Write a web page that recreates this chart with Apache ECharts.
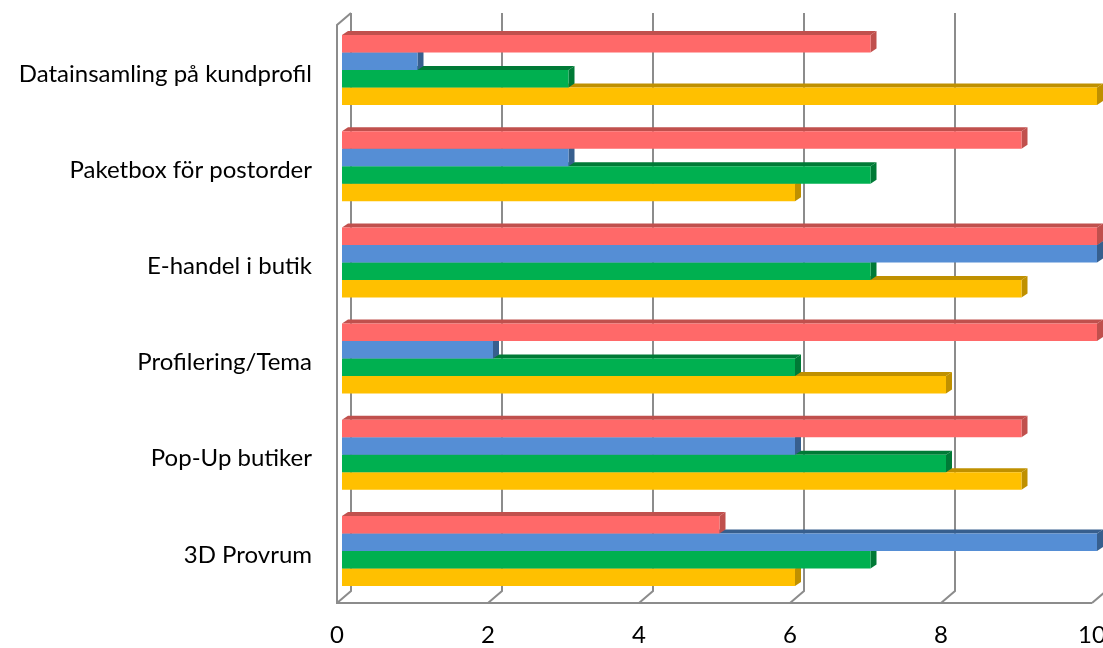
<!DOCTYPE html>
<html>
<head>
<meta charset="utf-8">
<script src="https://cdn.jsdelivr.net/npm/echarts@6/dist/echarts.min.js"></script>
<style>
  html, body { margin: 0; padding: 0; background: #fff; }
  #chart { width: 1103px; height: 648px; }
</style>
</head>
<body>
<div id="chart"></div>
<script>
// Categories, top to bottom
const categories = [
  'Datainsamling på kundprofil',
  'Paketbox för postorder',
  'E-handel i butik',
  'Profilering/Tema',
  'Pop-Up butiker',
  '3D Provrum'
];

// Series values, in category order (each group shows red, blue, green, yellow from top)
const serie1 = [7, 9, 10, 10, 9, 5];   // red
const serie2 = [1, 3, 10, 2, 6, 10];   // blue
const serie3 = [3, 7, 7, 6, 8, 7];     // green
const serie4 = [10, 6, 9, 8, 9, 6];    // yellow

const xTicks = [0, 2, 4, 6, 8, 10];

const FONT = 'Lato, "Open Sans", sans-serif';
const DEPTH_X = 6;
const DEPTH_Y = 4;
const BAR_FRAC = 0.182;   // one bar's thickness as a share of the category band

const palette = [
  { front: '#FF6969', shade: '#C0504D' },
  { front: '#558ED5', shade: '#375F8E' },
  { front: '#00B050', shade: '#007A36' },
  { front: '#FFC000', shade: '#BF9000' }
];

// 3D box bar: front face, top face and right side face
function boxRenderer(slot) {
  return function (params, api) {
    const val = api.value(0);
    const cat = api.value(1);
    const p0 = api.coord([0, cat]);
    const p1 = api.coord([val, cat]);
    const band = api.size([0, 1])[1];
    const h = band * BAR_FRAC;
    const y = p0[1] - 2 * h + slot * h;
    const x0 = p0[0], x1 = p1[0];
    const c = palette[slot];
    return {
      type: 'group',
      children: [
        { type: 'polygon',
          shape: { points: [[x0, y], [x0 + DEPTH_X, y - DEPTH_Y], [x1 + DEPTH_X, y - DEPTH_Y], [x1, y]] },
          style: { fill: c.shade } },
        { type: 'polygon',
          shape: { points: [[x1, y], [x1 + DEPTH_X, y - DEPTH_Y], [x1 + DEPTH_X, y + h - DEPTH_Y], [x1, y + h]] },
          style: { fill: c.shade } },
        { type: 'rect',
          shape: { x: x0, y: y, width: x1 - x0, height: h },
          style: { fill: c.front } }
      ]
    };
  };
}

// Back-wall gridlines with their slanted floor edges
function wallRenderer(params, api) {
  const v = api.value(0);
  const cs = params.coordSys;
  const px = api.coord([v, 0])[0];
  const top = cs.y - 9;
  const backBottom = cs.y + cs.height - 8;
  const frontBottom = cs.y + cs.height + 4;
  const backX = px + 9;
  const frontX = px - 5;
  const lineStyle = { stroke: '#8C8C8C', lineWidth: 2, fill: null };
  const children = [
    { type: 'polyline',
      shape: { points: [[backX, top], [backX, backBottom], [frontX, frontBottom]] },
      style: lineStyle }
  ];
  if (v === 0) {
    // left side wall and front floor edge
    const last = api.coord([xTicks[xTicks.length - 1], 0])[0] - 5;
    children.push(
      { type: 'polyline',
        shape: { points: [[backX, top], [frontX, top + 12], [frontX, frontBottom], [last, frontBottom]] },
        style: lineStyle }
    );
  }
  return { type: 'group', children: children };
}

const seriesValues = [serie1, serie2, serie3, serie4];
const names = ['Serie 1', 'Serie 2', 'Serie 3', 'Serie 4'];

const series = [{
  type: 'custom',
  name: 'grid',
  silent: true,
  renderItem: wallRenderer,
  data: xTicks.map(t => [t, 0]),
  z: 1
}];
// draw from the bottom bar upwards so each upper bar covers the top face below it
for (let s = 3; s >= 0; s--) {
  series.push({
    type: 'custom',
    name: names[s],
    renderItem: boxRenderer(s),
    data: seriesValues[s].map((v, i) => [v, i]),
    z: 2
  });
}

const chart = echarts.init(document.getElementById('chart'), null, { renderer: 'canvas' });
chart.setOption({
  animation: false,
  backgroundColor: '#ffffff',
  grid: {
    left: 342, right: 6, top: 22, bottom: 49,
    containLabel: false,
    outerBoundsMode: 'none'
  },
  xAxis: {
    type: 'value',
    min: 0, max: 10, interval: 2,
    axisLine: { show: false },
    axisTick: { show: false },
    splitLine: { show: false },
    axisLabel: {
      color: '#000', fontFamily: FONT, fontSize: 24, margin: 24,
      padding: [0, 10, 0, 0]
    }
  },
  yAxis: {
    type: 'category',
    data: categories,
    inverse: true,
    axisLine: { show: false },
    axisTick: { show: false },
    splitLine: { show: false },
    axisLabel: {
      color: '#000', fontFamily: FONT, fontSize: 24, margin: 30,
      verticalAlign: 'top', lineHeight: 8
    }
  },
  series: series
});
</script>
</body>
</html>
